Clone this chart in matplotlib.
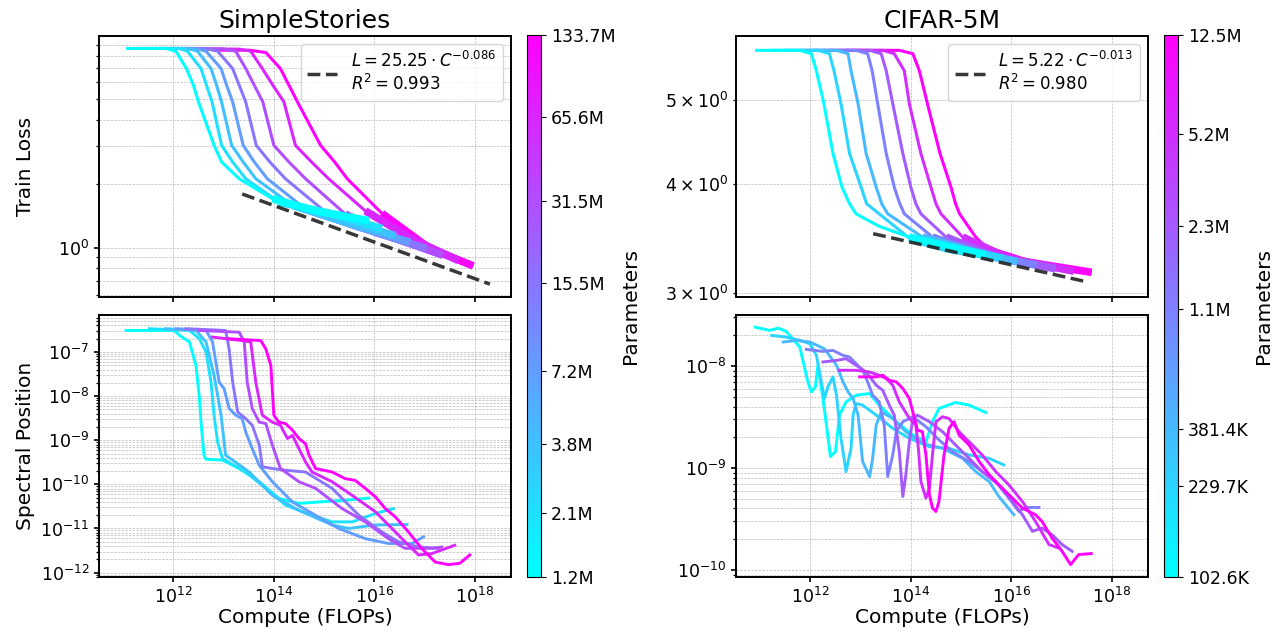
import numpy as np
import matplotlib
matplotlib.use("Agg")
import matplotlib.pyplot as plt
from matplotlib.colors import LogNorm
from matplotlib.ticker import NullLocator, FixedLocator

# ---------------- SimpleStories ----------------
ss_params = [1.2e6, 2.1e6, 3.8e6, 7.2e6, 15.5e6, 31.5e6, 65.6e6, 133.7e6]
ss_labels = ["1.2M", "2.1M", "3.8M", "7.2M", "15.5M", "31.5M", "65.6M", "133.7M"]

# log10(compute) and train loss, one list per model
ss_loss_logc = [
    [11.06, 11.85, 12.05, 12.26, 12.40, 12.50, 12.81, 12.96, 13.31, 13.97, 14.83, 15.89],
    [11.33, 12.12, 12.28, 12.55, 12.66, 12.77, 12.96, 13.18, 13.44, 14.10, 15.16, 16.15],
    [11.52, 12.28, 12.48, 12.75, 12.86, 12.96, 13.16, 13.39, 13.64, 14.37, 15.42, 16.42],
    [11.72, 12.45, 12.65, 12.95, 13.06, 13.18, 13.39, 13.61, 13.87, 14.63, 15.69, 16.71],
    [11.92, 12.65, 12.88, 13.18, 13.31, 13.44, 13.65, 13.92, 14.23, 15.03, 16.02, 17.04],
    [12.15, 12.98, 13.24, 13.44, 13.61, 13.78, 14.00, 14.30, 14.63, 15.42, 16.35, 17.37],
    [12.52, 13.31, 13.54, 13.77, 13.98, 14.20, 14.43, 14.75, 15.09, 15.82, 16.75, 17.67],
    [12.78, 13.51, 13.84, 14.13, 14.30, 14.47, 14.93, 15.21, 15.46, 16.15, 17.08, 17.97],
]
ss_loss = [
    [8.65, 8.65, 8.40, 6.96, 5.81, 4.85, 3.03, 2.53, 2.11, 1.70, 1.49, 1.34],
    [8.65, 8.65, 8.40, 6.96, 5.81, 4.85, 3.03, 2.53, 2.11, 1.64, 1.44, 1.23],
    [8.65, 8.65, 8.40, 6.96, 5.81, 4.85, 3.03, 2.53, 2.11, 1.58, 1.32, 1.14],
    [8.65, 8.65, 8.40, 6.96, 5.81, 4.85, 3.03, 2.53, 2.11, 1.52, 1.25, 1.06],
    [8.65, 8.65, 8.40, 6.96, 5.81, 4.85, 3.03, 2.53, 2.11, 1.47, 1.18, 0.99],
    [8.62, 8.62, 8.40, 6.96, 5.81, 4.85, 3.03, 2.53, 2.11, 1.44, 1.12, 0.92],
    [8.59, 8.59, 8.40, 6.96, 5.81, 4.85, 3.03, 2.53, 2.11, 1.49, 1.10, 0.87],
    [8.49, 8.49, 8.28, 6.96, 5.81, 4.85, 3.03, 2.53, 2.11, 1.45, 1.00, 0.82],
]

# log10(compute) and log10(spectral position)
ss_spec_logc = [
    [11.06, 12.02, 12.12, 12.32, 12.45, 12.52, 12.55, 12.61, 12.65, 12.98, 13.31, 13.71, 14.10, 14.50, 14.89, 15.42, 15.89],
    [11.52, 12.32, 12.52, 12.65, 12.75, 12.81, 12.88, 12.98, 13.44, 13.84, 14.23, 14.76, 15.16, 15.56, 16.02, 16.38],
    [11.85, 12.45, 12.65, 12.81, 12.95, 13.04, 13.18, 13.51, 13.97, 14.50, 15.16, 15.49, 16.02, 16.65],
    [12.05, 12.65, 12.78, 12.91, 13.01, 13.11, 13.24, 13.37, 13.44, 13.57, 13.71, 13.97, 14.37, 14.83, 15.29, 15.82, 16.28, 16.75, 16.98],
    [12.25, 13.04, 13.11, 13.18, 13.28, 13.44, 13.57, 13.71, 13.77, 13.97, 14.23, 14.63, 15.16, 15.69, 16.15, 16.48, 16.88, 17.27],
    [12.52, 13.31, 13.41, 13.47, 13.57, 13.71, 13.84, 13.97, 14.13, 14.50, 14.83, 15.36, 15.82, 16.28, 16.61, 17.14, 17.34],
    [12.78, 13.37, 13.54, 13.64, 13.77, 13.97, 14.13, 14.27, 14.37, 14.50, 14.63, 14.76, 15.16, 15.56, 16.02, 16.35, 16.68, 16.88, 17.14, 17.60],
    [13.11, 13.74, 13.84, 13.94, 14.00, 14.10, 14.23, 14.37, 14.50, 14.63, 14.70, 14.83, 15.16, 15.42, 15.62, 15.82, 16.02, 16.22, 16.42, 16.68, 16.94, 17.21, 17.47, 17.70, 17.90],
]
ss_spec_exp = [
    [-6.51, -6.51, -6.62, -6.77, -7.30, -8.06, -8.59, -9.34, -9.43, -9.45, -9.64, -9.94, -10.32, -10.43, -10.40, -10.36, -10.31],
    [-6.47, -6.51, -6.70, -7.00, -7.68, -8.43, -9.04, -9.42, -9.72, -10.09, -10.47, -10.70, -10.85, -10.85, -10.66, -10.55],
    [-6.47, -6.51, -6.77, -7.53, -8.43, -9.34, -9.45, -9.72, -10.25, -10.59, -10.92, -11.00, -10.92, -10.91],
    [-6.47, -6.51, -6.77, -7.68, -7.83, -8.28, -8.43, -8.51, -8.81, -9.19, -9.57, -9.94, -10.40, -10.70, -11.00, -11.23, -11.34, -11.34, -11.19],
    [-6.47, -6.51, -6.93, -7.68, -8.36, -8.51, -8.66, -9.11, -9.60, -9.64, -9.68, -9.72, -10.09, -10.70, -11.08, -11.30, -11.42, -11.45],
    [-6.51, -6.55, -6.77, -7.68, -8.28, -8.59, -8.62, -9.11, -9.64, -9.94, -10.09, -10.55, -10.85, -11.23, -11.45, -11.45, -11.42],
    [-6.66, -6.74, -6.77, -7.68, -8.43, -8.59, -8.66, -8.96, -8.89, -9.19, -9.49, -9.72, -9.94, -10.25, -10.62, -11.00, -11.38, -11.60, -11.57, -11.38],
    [-6.70, -6.74, -6.93, -7.30, -8.43, -8.59, -8.62, -8.77, -8.96, -9.08, -9.34, -9.64, -9.72, -9.87, -9.91, -10.09, -10.28, -10.55, -10.74, -11.08, -11.45, -11.76, -11.82, -11.79, -11.60],
]
ss_fit = (25.25, 0.086, 0.993)
ss_fit_logc = [13.37, 18.30]

# ---------------- CIFAR-5M ----------------
cf_params = [102.6e3, 229.7e3, 381.4e3, 1.1e6, 2.3e6, 5.2e6, 12.5e6]
cf_labels = ["102.6K", "229.7K", "381.4K", "1.1M", "2.3M", "5.2M", "12.5M"]

cf_loss_logc = [
    [10.90, 11.79, 12.02, 12.12, 12.27, 12.45, 12.63, 12.78, 12.91, 13.37, 13.97, 14.76, 15.49],
    [11.19, 12.15, 12.38, 12.47, 12.61, 12.78, 13.01, 13.12, 13.37, 13.97, 14.76, 15.82],
    [11.46, 12.52, 12.75, 12.81, 12.95, 13.11, 13.31, 13.42, 13.54, 14.23, 15.16, 16.12],
    [11.76, 12.91, 13.14, 13.23, 13.34, 13.51, 13.67, 13.78, 13.87, 14.43, 15.42, 16.51],
    [12.05, 13.18, 13.41, 13.51, 13.64, 13.84, 14.00, 14.10, 14.20, 14.70, 15.69, 16.88],
    [12.38, 13.44, 13.67, 13.87, 13.97, 14.20, 14.40, 14.50, 14.60, 15.03, 15.95, 17.24],
    [12.71, 13.77, 14.04, 14.17, 14.33, 14.58, 14.80, 14.89, 14.97, 15.29, 15.56, 16.28, 17.60],
]
cf_loss = [
    [5.70, 5.70, 5.65, 5.40, 4.95, 4.34, 3.97, 3.80, 3.70, 3.58, 3.48, 3.39, 3.32],
    [5.70, 5.70, 5.65, 5.40, 4.95, 4.34, 3.97, 3.80, 3.70, 3.47, 3.37, 3.29],
    [5.70, 5.70, 5.65, 5.40, 4.95, 4.34, 3.97, 3.80, 3.70, 3.48, 3.36, 3.26],
    [5.70, 5.70, 5.65, 5.40, 4.95, 4.34, 3.97, 3.80, 3.70, 3.48, 3.32, 3.23],
    [5.70, 5.70, 5.65, 5.40, 4.95, 4.34, 3.97, 3.80, 3.70, 3.48, 3.30, 3.20],
    [5.70, 5.70, 5.65, 5.40, 4.95, 4.34, 3.97, 3.80, 3.70, 3.48, 3.29, 3.18],
    [5.70, 5.70, 5.65, 5.40, 4.95, 4.34, 3.97, 3.80, 3.70, 3.48, 3.36, 3.26, 3.17],
]

cf_spec_logc = [
    [10.90, 11.19, 11.36, 11.52, 11.79, 11.95, 12.02, 12.10, 12.15, 12.26, 12.40, 12.50, 12.58, 12.71, 12.91, 13.18, 13.37, 13.71, 14.04, 14.30, 14.43, 14.56, 14.89, 15.16, 15.49],
    [11.23, 11.52, 11.79, 11.99, 12.12, 12.22, 12.28, 12.35, 12.45, 12.52, 12.61, 12.71, 12.81, 12.85, 12.91, 13.04, 13.31, 13.64, 13.97, 14.37, 14.76, 15.16, 15.56, 15.85],
    [11.46, 11.72, 11.99, 12.28, 12.52, 12.65, 12.75, 12.85, 12.95, 13.04, 13.18, 13.24, 13.31, 13.41, 13.64, 13.90, 14.23, 14.63, 15.03, 15.29, 15.56, 15.75, 16.05],
    [11.92, 12.25, 12.45, 12.65, 12.78, 12.91, 13.04, 13.14, 13.24, 13.37, 13.47, 13.54, 13.64, 13.71, 13.84, 14.04, 14.30, 14.56, 14.83, 15.16, 15.42, 15.69, 15.95, 16.15, 16.28, 16.55],
    [12.25, 12.52, 12.71, 12.91, 13.11, 13.31, 13.44, 13.57, 13.67, 13.77, 13.84, 13.90, 13.97, 14.04, 14.13, 14.37, 14.63, 14.89, 15.16, 15.42, 15.75, 16.02, 16.22, 16.42, 16.61, 16.81, 17.01, 17.21],
    [12.58, 12.91, 13.18, 13.37, 13.51, 13.64, 13.77, 13.97, 14.10, 14.15, 14.20, 14.30, 14.37, 14.43, 14.50, 14.63, 14.76, 14.96, 15.16, 15.42, 15.69, 15.95, 16.22, 16.48, 16.75, 16.94],
    [12.98, 13.31, 13.44, 13.57, 13.71, 13.84, 13.97, 14.04, 14.13, 14.23, 14.30, 14.37, 14.43, 14.50, 14.56, 14.66, 14.76, 14.86, 14.96, 15.16, 15.36, 15.56, 15.82, 16.02, 16.22, 16.48, 16.61, 16.81, 17.01, 17.18, 17.34, 17.59],
]
cf_spec_exp = [
    [-7.619, -7.651, -7.629, -7.661, -7.814, -8.156, -8.254, -8.205, -7.993, -8.352, -8.889, -8.840, -8.482, -8.352, -8.287, -8.270, -8.384, -8.547, -8.678, -8.743, -8.547, -8.417, -8.358, -8.384, -8.456],
    [-7.700, -7.717, -7.749, -7.782, -7.896, -8.156, -8.319, -8.205, -8.107, -8.287, -8.710, -9.036, -8.808, -8.482, -8.368, -8.384, -8.482, -8.612, -8.710, -8.792, -8.808, -8.873, -8.906, -8.971],
    [-7.765, -7.749, -7.765, -7.831, -7.993, -8.156, -8.254, -8.319, -8.482, -8.938, -9.085, -8.906, -8.580, -8.450, -8.515, -8.645, -8.759, -8.808, -8.906, -9.036, -9.134, -9.280, -9.459],
    [-7.837, -7.857, -7.847, -7.896, -7.912, -7.977, -8.042, -8.156, -8.287, -8.352, -8.580, -9.085, -8.873, -8.645, -8.547, -8.498, -8.596, -8.726, -8.840, -8.938, -9.036, -9.134, -9.296, -9.427, -9.388, -9.388],
    [-7.961, -7.945, -7.928, -7.993, -8.059, -8.189, -8.238, -8.384, -8.482, -8.840, -9.280, -9.068, -8.743, -8.515, -8.482, -8.547, -8.645, -8.775, -8.906, -9.036, -9.166, -9.329, -9.459, -9.622, -9.590, -9.655, -9.752, -9.818],
    [-8.042, -8.042, -8.059, -8.091, -8.124, -8.189, -8.352, -8.515, -8.580, -8.808, -9.134, -9.296, -9.199, -8.873, -8.547, -8.498, -8.515, -8.645, -8.743, -8.873, -9.036, -9.166, -9.329, -9.524, -9.752, -9.785],
    [-8.107, -8.107, -8.091, -8.140, -8.156, -8.221, -8.319, -8.450, -8.629, -8.645, -8.873, -9.264, -9.394, -9.427, -9.329, -8.873, -8.612, -8.547, -8.678, -8.775, -8.938, -9.068, -9.199, -9.296, -9.394, -9.459, -9.524, -9.687, -9.818, -9.948, -9.850, -9.840],
]
cf_fit = (5.22, 0.013, 0.980)
cf_fit_logc = [13.25, 17.50]

cmap = plt.get_cmap("cool")
W, H = 1279, 636
fig = plt.figure(figsize=(W / 100, H / 100), dpi=100)


def px(x0, y0, x1, y1):
    return [x0 / W, 1 - y1 / H, (x1 - x0) / W, (y1 - y0) / H]


def style(ax):
    ax.set_xscale("log")
    ax.set_yscale("log")
    ax.set_xlim(10 ** 10.52, 10 ** 18.72)
    ax.xaxis.set_major_locator(FixedLocator([1e12, 1e14, 1e16, 1e18]))
    ax.xaxis.set_minor_locator(NullLocator())
    ax.grid(True, which="both", ls="--", lw=0.5, color="#aaaaaa", alpha=0.8)
    ax.tick_params(which="both", labelsize=12.5, width=1.2)
    ax.tick_params(which="minor", width=0.9)
    for s in ax.spines.values():
        s.set_linewidth(1.4)


def column(x0, title, params, labels, loss_c, loss, spec_c, spec_e, fit, fit_c,
           loss_ylim, spec_ylim, ylabels):
    norm = LogNorm(vmin=min(params), vmax=max(params))
    ax1 = fig.add_axes(px(x0, 36, x0 + 412, 297))
    ax2 = fig.add_axes(px(x0, 315, x0 + 412, 577), sharex=ax1)
    style(ax1)
    style(ax2)

    # loss curves, largest first so the small ones sit on top
    for p, xs, ys in reversed(list(zip(params, loss_c, loss))):
        c = cmap(norm(p))
        x = 10.0 ** np.array(xs)
        ax1.plot(x, ys, color=c, lw=2.2, solid_capstyle="butt")
        ax1.plot(x[-3:], ys[-3:], color=c, lw=5.5, solid_capstyle="butt")

    a, b, r2 = fit
    fx = 10.0 ** np.array(fit_c)
    ax1.plot(fx, a * fx ** (-b), ls="--", color="#222222", lw=2.5, alpha=0.9,
             label=f"$L = {a:.2f} \\cdot C^{{-{b:.3f}}}$\n$R^2 = {r2:.3f}$")
    ax1.legend(loc="upper right", fontsize=12, handlelength=1.8)
    ax1.set_ylim(*loss_ylim)
    ax1.tick_params(labelbottom=False)
    ax1.set_title(title, fontsize=18, pad=6)

    for p, xs, ys in zip(params, spec_c, spec_e):
        ax2.plot(10.0 ** np.array(xs), 10.0 ** np.array(ys), color=cmap(norm(p)), lw=2.1)
    ax2.set_ylim(*spec_ylim)
    ax2.set_xlabel("Compute (FLOPs)", fontsize=14.5, labelpad=1)

    if ylabels:
        ax1.set_ylabel("Train Loss", fontsize=14.5)
        ax2.set_ylabel("Spectral Position", fontsize=14.5)
        ax1.yaxis.set_label_coords(-0.155, 0.5)
        ax2.yaxis.set_label_coords(-0.155, 0.5)

    cax = fig.add_axes(px(x0 + 428, 35, x0 + 442, 577))
    sm = plt.cm.ScalarMappable(norm=norm, cmap=cmap)
    cb = fig.colorbar(sm, cax=cax)
    cb.set_ticks(params)
    cb.set_ticklabels(labels)
    cb.ax.minorticks_off()
    cb.ax.tick_params(labelsize=12.5)
    cb.set_label("Parameters", fontsize=14.5)
    return ax1, ax2


column(99, "SimpleStories", ss_params, ss_labels, ss_loss_logc, ss_loss,
       ss_spec_logc, ss_spec_exp, ss_fit, ss_fit_logc,
       (0.586, 9.9), (10 ** -12.1, 10 ** -6.16), True)
column(736, "CIFAR-5M", cf_params, cf_labels, cf_loss_logc, cf_loss,
       cf_spec_logc, cf_spec_exp, cf_fit, cf_fit_logc,
       (2.97, 5.92), (10 ** -10.07, 10 ** -7.50), False)

fig.savefig("out.png", dpi=100)
